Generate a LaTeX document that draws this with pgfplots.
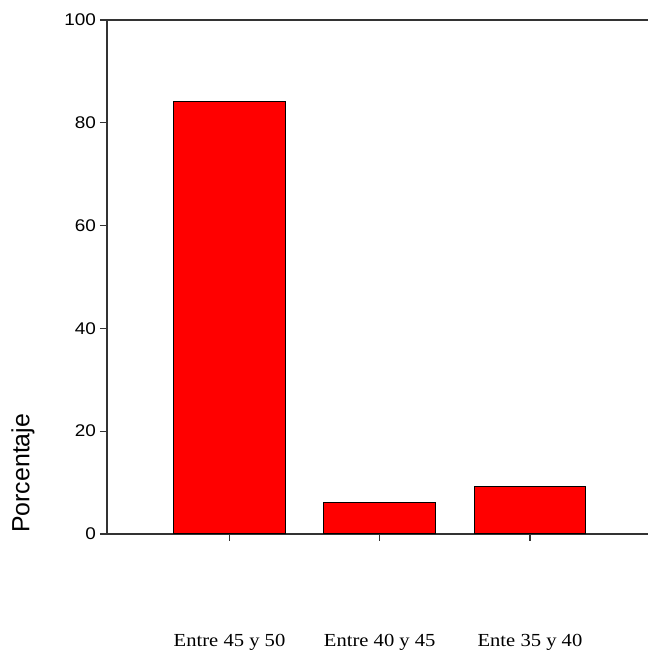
\documentclass[border=0pt]{standalone}
\usepackage{fontspec}
\setmainfont{Liberation Sans}
\newfontfamily\timesf{Liberation Serif}
\usepackage{pgfplots}
\pgfplotsset{compat=1.18}
\definecolor{axgray}{HTML}{333333}
\begin{document}
\begin{tikzpicture}
\begin{axis}[
  scale only axis,
  width=542bp, height=515bp,
  xmin=-0.817, xmax=2.784,
  ymin=0, ymax=100,
  axis x line=box,
  axis y line=left,
  x axis line style={-, axgray, line width=1.5bp},
  y axis line style={-, axgray, line width=1.5bp},
  xtick pos=left,
  ytick pos=left,
  tick align=outside,
  major tick length=7bp,
  tick style={axgray, line width=1.2bp},
  xtick={0,1,2},
  xticklabels={Entre 45 y 50, Entre 40 y 45, Ente 35 y 40},
  xticklabel style={font=\timesf\fontsize{18.5}{22}\selectfont, anchor=base, yshift=-106bp, xscale=1.12},
  ytick={0,20,40,60,80,100},
  yticklabel style={font=\fontsize{17}{20}\selectfont, xscale=1.12, anchor=east, xshift=0bp},
  /pgf/number format/assume math mode=true,
  ylabel={Porcentaje},
  ylabel style={font=\fontsize{25}{29}\selectfont, at={(axis description cs:-0.155,0.118)}, anchor=center},
]
\addplot[ybar, bar width=0.744, fill=red, draw=black, line width=1bp] coordinates {(0,84.2) (1,6.2) (2,9.3)};
\end{axis}
\useasboundingbox (-107bp,-119bp) rectangle (542bp,535bp);
\end{tikzpicture}
\end{document}
